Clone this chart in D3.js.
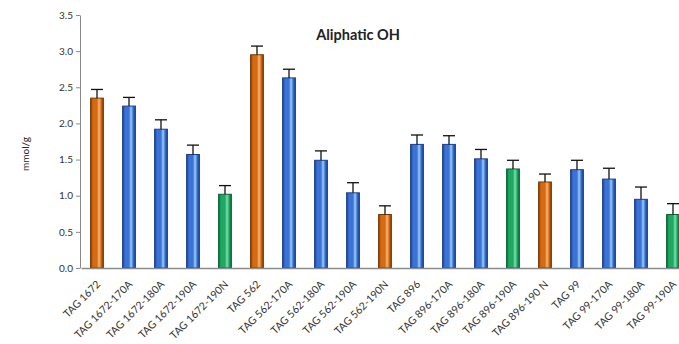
<!DOCTYPE html>
<html><head><meta charset="utf-8">
<script src="https://cdn.jsdelivr.net/npm/d3@7/dist/d3.min.js"></script>
<style>body{margin:0;background:#fff;}svg{display:block;}</style>
</head><body>
<script>
const categories = ["TAG 1672","TAG 1672-170A","TAG 1672-180A","TAG 1672-190A","TAG 1672-190N","TAG 562","TAG 562-170A","TAG 562-180A","TAG 562-190A","TAG 562-190N","TAG 896","TAG 896-170A","TAG 896-180A","TAG 896-190A","TAG 896-190 N","TAG 99","TAG 99-170A","TAG 99-180A","TAG 99-190A"];
const values = [2.35,2.24,1.92,1.57,1.02,2.95,2.63,1.49,1.04,0.74,1.71,1.71,1.51,1.37,1.19,1.36,1.23,0.95,0.74];
const errors = [0.12,0.12,0.13,0.13,0.12,0.12,0.12,0.13,0.14,0.12,0.13,0.12,0.13,0.12,0.11,0.13,0.15,0.17,0.15];
const groups = ["orange","blue","blue","blue","green","orange","blue","blue","blue","orange","blue","blue","blue","green","orange","blue","blue","blue","green"];
const yTicks = [0,0.5,1.0,1.5,2.0,2.5,3.0,3.5];
const title = "Aliphatic OH";
const yLabel = "mmol/g";

const W=679,H=344;
const svg=d3.select("body").append("svg").attr("width",W).attr("height",H);
const x=d3.scaleBand().domain(categories).range([81,689]).paddingInner(0.6).paddingOuter(0.3);
const y=d3.scaleLinear().domain([0,3.5]).range([268,15]);

const palette={
  orange:{dark:"#7a3a05",base:"#d56a10",light:"#f6b87a"},
  blue:{dark:"#1c3e8a",base:"#3a72d6",light:"#9ad0f4"},
  green:{dark:"#0c6434",base:"#1ea862",light:"#7ee0b2"}
};
const defs=svg.append("defs");
Object.entries(palette).forEach(([k,c])=>{
  const g=defs.append("linearGradient").attr("id","g-"+k).attr("x1","0").attr("x2","1").attr("y1","0").attr("y2","0");
  [[0,c.dark],[0.18,c.base],[0.5,c.base],[0.66,c.light],[0.82,c.base],[1,c.dark]].forEach(([o,col])=>g.append("stop").attr("offset",o).attr("stop-color",col));
});

// y axis
const yAxis=d3.axisLeft(y).tickValues(yTicks).tickFormat(d3.format(".1f")).tickSize(4).tickSizeOuter(0);
const ya=svg.append("g").attr("transform","translate(80,0)").call(yAxis);
ya.select(".domain").attr("stroke","#8a8a8a");
ya.selectAll(".tick line").attr("stroke","#8a8a8a");
ya.selectAll(".tick text").attr("fill","#333").attr("font-family","Lato, 'Open Sans', sans-serif").attr("font-size",10).attr("x",-7);

// bars
const bw=x.bandwidth();
svg.append("g").selectAll("rect").data(categories).join("rect")
  .attr("x",d=>x(d)).attr("y",(d,i)=>y(values[i])).attr("width",bw)
  .attr("height",(d,i)=>y(0)-y(values[i]))
  .attr("fill",(d,i)=>`url(#g-${groups[i]})`)
  .attr("stroke",(d,i)=>palette[groups[i]].dark).attr("stroke-width",1);

// error bars (upper)
const eg=svg.append("g").attr("stroke","#111").attr("stroke-width",1.3);
categories.forEach((c,i)=>{
  const cx=x(c)+bw/2;
  eg.append("line").attr("x1",cx).attr("x2",cx).attr("y1",y(values[i])).attr("y2",y(values[i]+errors[i]));
  eg.append("line").attr("x1",cx-6).attr("x2",cx+6).attr("y1",y(values[i]+errors[i])).attr("y2",y(values[i]+errors[i]));
});

// x axis
const xAxis=d3.axisBottom(x).tickSize(0).tickSizeOuter(0);
const xa=svg.append("g").attr("transform","translate(0,268)").call(xAxis);
xa.select(".domain").attr("stroke","#8a8a8a").attr("stroke-width",1.5);
xa.selectAll(".tick text").attr("fill","#333").attr("font-family","Lato, 'Open Sans', sans-serif").attr("font-size",10.5)
  .attr("text-anchor","end").attr("dy",0).attr("y",0)
  .attr("transform","translate(4,17) rotate(-45)");

// title
svg.append("text").attr("x",358).attr("y",40).attr("text-anchor","middle")
  .attr("font-family","Lato, 'Open Sans', sans-serif").attr("font-weight","bold").attr("font-size",14.5).attr("fill","#222").text(title);
// y label
svg.append("text").attr("transform","translate(29,154) rotate(-90)").attr("text-anchor","middle")
  .attr("font-family","Lato, 'Open Sans', sans-serif").attr("font-size",10).attr("fill","#222").text(yLabel);
</script>
</body></html>
